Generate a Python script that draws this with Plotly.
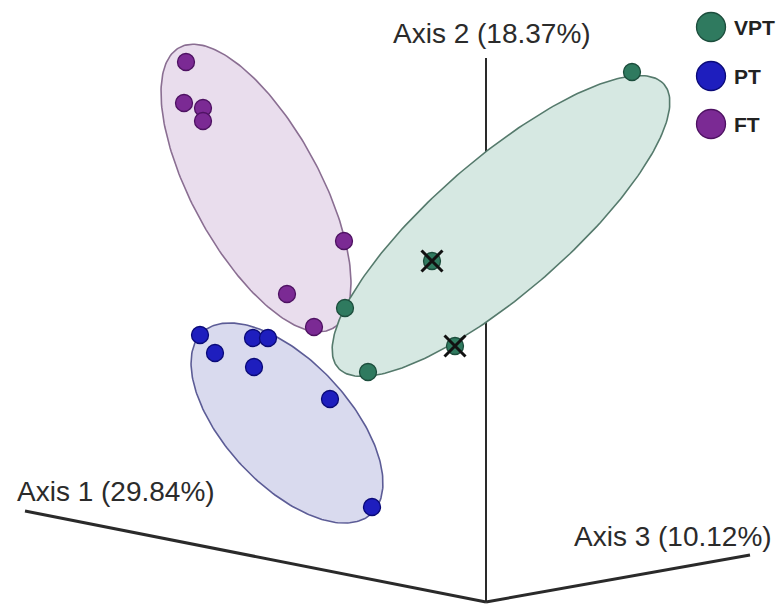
import numpy as np
import plotly.graph_objects as go

W, H = 782, 604

# Sample positions on the projected ordination plane (x right, y down)
ft_x = [186, 184, 203, 203, 344, 287, 314]
ft_y = [62, 103, 108, 121, 241, 294, 327]

pt_x = [200, 215, 253, 268, 254, 330, 372]
pt_y = [335, 353, 338, 338, 367, 399, 507]

vpt_x = [632, 345, 368, 432, 455]
vpt_y = [72, 308, 372, 261, 346]

# VPT samples flagged with a cross
flag_x = [432, 455]
flag_y = [261, 346]

# Group ellipses: centre x, centre y, semi-major, semi-minor, rotation (deg, clockwise on screen)
ell_groups = ["FT", "PT", "VPT"]
ell_cx = [256, 287, 501]
ell_cy = [188, 423, 226]
ell_a = [160, 124, 216]
ell_b = [64, 62, 67]
ell_rot = [61.4, 47, -41]

legend_groups = ["VPT", "PT", "FT"]
axis_titles = ["Axis 1 (29.84%)", "Axis 2 (18.37%)", "Axis 3 (10.12%)"]

style = {
    "FT": dict(fill="#E9DDED", edge="#8A6E92", core="#7B2A94", rim="#4E1262"),
    "PT": dict(fill="#D9DAEE", edge="#5C5C96", core="#1E1EBE", rim="#0A0A78"),
    "VPT": dict(fill="#D6E8E2", edge="#557A6C", core="#2F7A5F", rim="#1C4D3C"),
}

fig = go.Figure()

# Ellipses
for g, cx, cy, a, b, rot in zip(ell_groups, ell_cx, ell_cy, ell_a, ell_b, ell_rot):
    t = np.linspace(0, 2 * np.pi, 241)
    r = np.deg2rad(rot)
    ex = cx + a * np.cos(t) * np.cos(r) - b * np.sin(t) * np.sin(r)
    ey = cy + a * np.cos(t) * np.sin(r) + b * np.sin(t) * np.cos(r)
    s = style[g]
    fig.add_trace(go.Scatter(
        x=ex, y=ey, mode="lines", fill="toself", fillcolor=s["fill"],
        line=dict(color=s["edge"], width=1.6), hoverinfo="skip", showlegend=False,
    ))


def sphere(x, y, g, size):
    s = style[g]
    return go.Scatter(
        x=x, y=y, mode="markers", name=g, showlegend=False,
        marker=dict(size=size, color=s["core"],
                    line=dict(color=s["rim"], width=1.3)),
    )


fig.add_trace(sphere(ft_x, ft_y, "FT", 17))
fig.add_trace(sphere(pt_x, pt_y, "PT", 17))
fig.add_trace(sphere(vpt_x, vpt_y, "VPT", 17))

fig.add_trace(go.Scatter(
    x=flag_x, y=flag_y, mode="markers", showlegend=False, hoverinfo="skip",
    marker=dict(symbol="x-thin", size=21, line=dict(color="#111111", width=3)),
))

# Legend drawn as large spheres with labels
leg_y = [27, 76, 124]
for g, ly in zip(legend_groups, leg_y):
    fig.add_trace(sphere([711], [ly], g, 29))
    fig.add_annotation(x=732, y=ly, text=g, showarrow=False, xanchor="left",
                       yanchor="middle",
                       font=dict(family="Liberation Sans", size=21,
                                 color="#222222", weight="bold"))

# Projected axis lines
axis_lines = [
    ((25, 511), (486, 602), 3),
    ((486, 58), (486, 602), 2),
    ((486, 602), (750, 555), 3),
]
for (x0, y0), (x1, y1), w in axis_lines:
    fig.add_shape(type="line", x0=x0, y0=y0, x1=x1, y1=y1,
                  line=dict(color="#2a2a2a", width=w), layer="below")

title_pos = [(116, 491), (492, 33), (673, 536)]
for txt, (tx, ty) in zip(axis_titles, title_pos):
    fig.add_annotation(x=tx, y=ty, text=txt, showarrow=False,
                       xanchor="center", yanchor="middle",
                       font=dict(family="Liberation Sans", size=28, color="#2b2b2b"))

fig.update_layout(
    width=W, height=H, margin=dict(l=0, r=0, t=0, b=0),
    paper_bgcolor="white", plot_bgcolor="white", showlegend=False,
    xaxis=dict(range=[0, W], visible=False, fixedrange=True),
    yaxis=dict(range=[H, 0], visible=False, fixedrange=True),
)

fig.write_html("out.html")
